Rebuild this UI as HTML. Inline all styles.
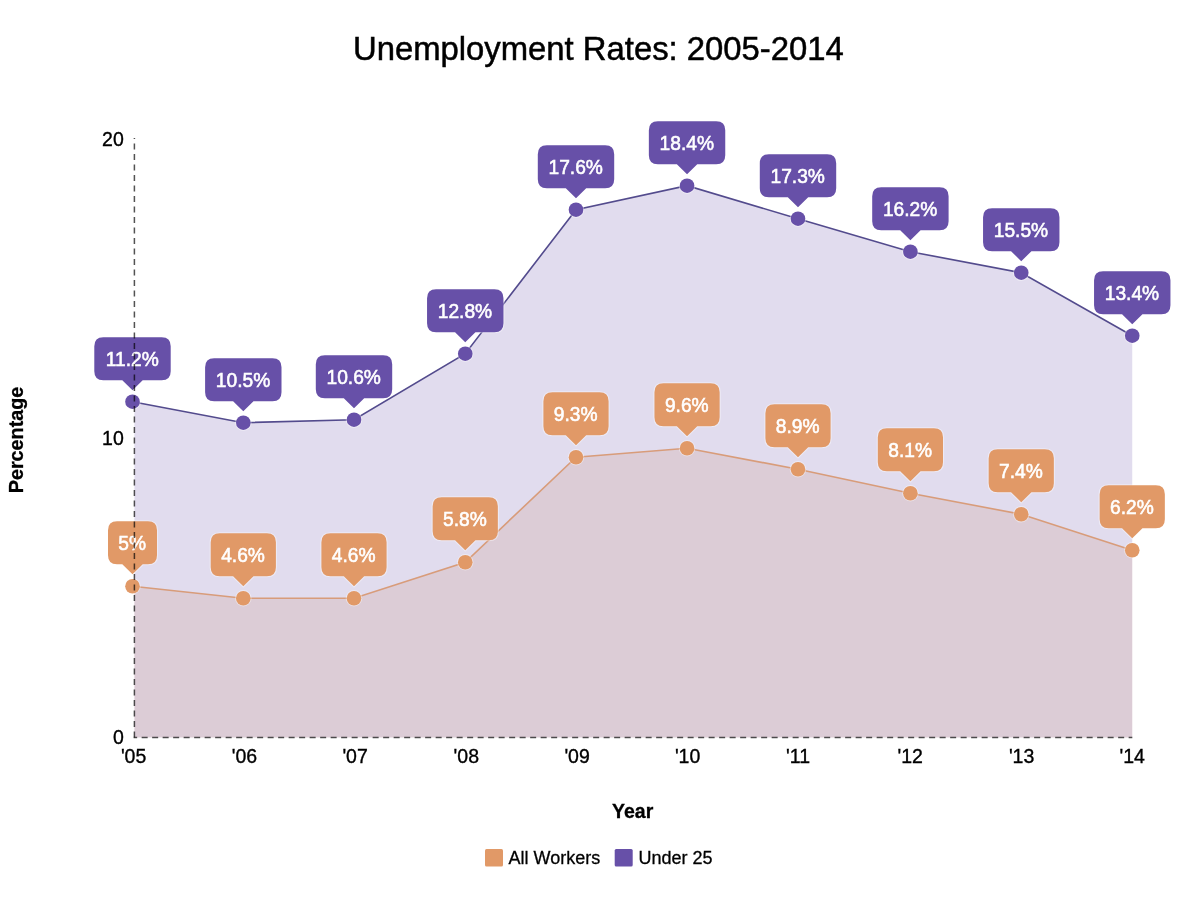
<!DOCTYPE html>
<html lang="en">
<head>
<meta charset="utf-8">
<title>Unemployment Rates: 2005-2014</title>
<style>
html,body{margin:0;padding:0;background:#fff;}
body{width:1200px;height:904px;overflow:hidden;}
svg{display:block;font-family:"Liberation Sans",Arial,Helvetica,sans-serif;}
</style>
</head>
<body>
<svg width="1200" height="904" viewBox="0 0 1200 904">
<rect width="1200" height="904" fill="#fff"/>
<text x="598.4" y="59.7" text-anchor="middle" font-size="32.85" fill="#000" stroke="#000" stroke-width="0.5">Unemployment Rates: 2005-2014</text>
<path d="M134.4 737.5 L134.4 586.25 L243.3 598.25 L354 598.25 L465.25 562.25 L576 457.25 L687.05 448.25 L798 469.25 L910.4 493.25 L1021.25 514.25 L1132.25 550.25 L1132.25 737.5 Z" fill="#E19967" fill-opacity="0.2"/>
<path d="M134.4 737.5 L134.4 401.7 L243.3 422.7 L354 419.7 L465.25 353.7 L576 209.7 L687.05 185.7 L798 218.7 L910.4 251.7 L1021.25 272.7 L1132.25 335.7 L1132.25 737.5 Z" fill="#6750A8" fill-opacity="0.2"/>
<path d="M132.5 586.25 L243.3 598.25 L354 598.25 L465.25 562.25 L576 457.25 L687.05 448.25 L798 469.25 L910.4 493.25 L1021.25 514.25 L1132.25 550.25" fill="none" stroke="#D89C7A" stroke-width="1.6"/>
<path d="M132.5 401.7 L243.3 422.7 L354 419.7 L465.25 353.7 L576 209.7 L687.05 185.7 L798 218.7 L910.4 251.7 L1021.25 272.7 L1132.25 335.7" fill="none" stroke="#534B8D" stroke-width="1.6"/>
<g font-size="19.5" fill="#000" stroke="#000" stroke-width="0.35" text-anchor="end">
<text x="123.8" y="744">0</text>
<text x="123.8" y="445">10</text>
<text x="123.8" y="146">20</text>
</g>
<g font-size="19.5" fill="#000" stroke="#000" stroke-width="0.35" text-anchor="middle">
<text x="133.6" y="762.8">'05</text>
<text x="244.4" y="762.8">'06</text>
<text x="355.1" y="762.8">'07</text>
<text x="466.3" y="762.8">'08</text>
<text x="577.1" y="762.8">'09</text>
<text x="687.6" y="762.8">'10</text>
<text x="798.1" y="762.8">'11</text>
<text x="910.25" y="762.8">'12</text>
<text x="1021.6" y="762.8">'13</text>
<text x="1132.2" y="762.8">'14</text>
</g>
<text x="632.7" y="817.7" text-anchor="middle" font-size="19.5" font-weight="bold" fill="#000" stroke="#000" stroke-width="0.3">Year</text>
<text transform="translate(23,440) rotate(-90)" text-anchor="middle" font-size="19.75" font-weight="bold" fill="#000" stroke="#000" stroke-width="0.3">Percentage</text>
<circle cx="132.5" cy="401.7" r="7.3" fill="#6750A8" stroke="#fff" stroke-opacity="0.4" stroke-width="2" paint-order="stroke"/>
<circle cx="243.3" cy="422.7" r="7.3" fill="#6750A8" stroke="#fff" stroke-opacity="0.4" stroke-width="2" paint-order="stroke"/>
<circle cx="354" cy="419.7" r="7.3" fill="#6750A8" stroke="#fff" stroke-opacity="0.4" stroke-width="2" paint-order="stroke"/>
<circle cx="465.25" cy="353.7" r="7.3" fill="#6750A8" stroke="#fff" stroke-opacity="0.4" stroke-width="2" paint-order="stroke"/>
<circle cx="576" cy="209.7" r="7.3" fill="#6750A8" stroke="#fff" stroke-opacity="0.4" stroke-width="2" paint-order="stroke"/>
<circle cx="687.05" cy="185.7" r="7.3" fill="#6750A8" stroke="#fff" stroke-opacity="0.4" stroke-width="2" paint-order="stroke"/>
<circle cx="798" cy="218.7" r="7.3" fill="#6750A8" stroke="#fff" stroke-opacity="0.4" stroke-width="2" paint-order="stroke"/>
<circle cx="910.4" cy="251.7" r="7.3" fill="#6750A8" stroke="#fff" stroke-opacity="0.4" stroke-width="2" paint-order="stroke"/>
<circle cx="1021.25" cy="272.7" r="7.3" fill="#6750A8" stroke="#fff" stroke-opacity="0.4" stroke-width="2" paint-order="stroke"/>
<circle cx="1132.25" cy="335.7" r="7.3" fill="#6750A8" stroke="#fff" stroke-opacity="0.4" stroke-width="2" paint-order="stroke"/>
<circle cx="132.5" cy="586.25" r="7.3" fill="#E19967" stroke="#fff" stroke-opacity="0.4" stroke-width="2" paint-order="stroke"/>
<circle cx="243.3" cy="598.25" r="7.3" fill="#E19967" stroke="#fff" stroke-opacity="0.4" stroke-width="2" paint-order="stroke"/>
<circle cx="354" cy="598.25" r="7.3" fill="#E19967" stroke="#fff" stroke-opacity="0.4" stroke-width="2" paint-order="stroke"/>
<circle cx="465.25" cy="562.25" r="7.3" fill="#E19967" stroke="#fff" stroke-opacity="0.4" stroke-width="2" paint-order="stroke"/>
<circle cx="576" cy="457.25" r="7.3" fill="#E19967" stroke="#fff" stroke-opacity="0.4" stroke-width="2" paint-order="stroke"/>
<circle cx="687.05" cy="448.25" r="7.3" fill="#E19967" stroke="#fff" stroke-opacity="0.4" stroke-width="2" paint-order="stroke"/>
<circle cx="798" cy="469.25" r="7.3" fill="#E19967" stroke="#fff" stroke-opacity="0.4" stroke-width="2" paint-order="stroke"/>
<circle cx="910.4" cy="493.25" r="7.3" fill="#E19967" stroke="#fff" stroke-opacity="0.4" stroke-width="2" paint-order="stroke"/>
<circle cx="1021.25" cy="514.25" r="7.3" fill="#E19967" stroke="#fff" stroke-opacity="0.4" stroke-width="2" paint-order="stroke"/>
<circle cx="1132.25" cy="550.25" r="7.3" fill="#E19967" stroke="#fff" stroke-opacity="0.4" stroke-width="2" paint-order="stroke"/>
<path d="M103.3 337.3 H161.7 Q170.7 337.3 170.7 346.3 V371.2 Q170.7 380.2 161.7 380.2 H142.7 L132.5 390.2 L122.3 380.2 H103.3 Q94.3 380.2 94.3 371.2 V346.3 Q94.3 337.3 103.3 337.3 Z" fill="#6750A8" stroke="#fff" stroke-width="2.2" stroke-opacity="0.4" paint-order="stroke"/><text transform="translate(132.2 365.9) scale(1 1.08)" text-anchor="middle" font-size="19.2" fill="#fff" stroke="#fff" stroke-width="0.55">11.2%</text>
<path d="M214.1 358.3 H272.5 Q281.5 358.3 281.5 367.3 V392.2 Q281.5 401.2 272.5 401.2 H253.5 L243.3 411.2 L233.1 401.2 H214.1 Q205.1 401.2 205.1 392.2 V367.3 Q205.1 358.3 214.1 358.3 Z" fill="#6750A8" stroke="#fff" stroke-width="2.2" stroke-opacity="0.4" paint-order="stroke"/><text transform="translate(243 386.9) scale(1 1.08)" text-anchor="middle" font-size="19.2" fill="#fff" stroke="#fff" stroke-width="0.55">10.5%</text>
<path d="M324.8 355.3 H383.2 Q392.2 355.3 392.2 364.3 V389.2 Q392.2 398.2 383.2 398.2 H364.2 L354 408.2 L343.8 398.2 H324.8 Q315.8 398.2 315.8 389.2 V364.3 Q315.8 355.3 324.8 355.3 Z" fill="#6750A8" stroke="#fff" stroke-width="2.2" stroke-opacity="0.4" paint-order="stroke"/><text transform="translate(353.7 383.9) scale(1 1.08)" text-anchor="middle" font-size="19.2" fill="#fff" stroke="#fff" stroke-width="0.55">10.6%</text>
<path d="M436.05 289.3 H494.45 Q503.45 289.3 503.45 298.3 V323.2 Q503.45 332.2 494.45 332.2 H475.45 L465.25 342.2 L455.05 332.2 H436.05 Q427.05 332.2 427.05 323.2 V298.3 Q427.05 289.3 436.05 289.3 Z" fill="#6750A8" stroke="#fff" stroke-width="2.2" stroke-opacity="0.4" paint-order="stroke"/><text transform="translate(464.95 317.9) scale(1 1.08)" text-anchor="middle" font-size="19.2" fill="#fff" stroke="#fff" stroke-width="0.55">12.8%</text>
<path d="M546.8 145.3 H605.2 Q614.2 145.3 614.2 154.3 V179.2 Q614.2 188.2 605.2 188.2 H586.2 L576 198.2 L565.8 188.2 H546.8 Q537.8 188.2 537.8 179.2 V154.3 Q537.8 145.3 546.8 145.3 Z" fill="#6750A8" stroke="#fff" stroke-width="2.2" stroke-opacity="0.4" paint-order="stroke"/><text transform="translate(575.7 173.9) scale(1 1.08)" text-anchor="middle" font-size="19.2" fill="#fff" stroke="#fff" stroke-width="0.55">17.6%</text>
<path d="M657.85 121.3 H716.25 Q725.25 121.3 725.25 130.3 V155.2 Q725.25 164.2 716.25 164.2 H697.25 L687.05 174.2 L676.85 164.2 H657.85 Q648.85 164.2 648.85 155.2 V130.3 Q648.85 121.3 657.85 121.3 Z" fill="#6750A8" stroke="#fff" stroke-width="2.2" stroke-opacity="0.4" paint-order="stroke"/><text transform="translate(686.75 149.9) scale(1 1.08)" text-anchor="middle" font-size="19.2" fill="#fff" stroke="#fff" stroke-width="0.55">18.4%</text>
<path d="M768.8 154.3 H827.2 Q836.2 154.3 836.2 163.3 V188.2 Q836.2 197.2 827.2 197.2 H808.2 L798 207.2 L787.8 197.2 H768.8 Q759.8 197.2 759.8 188.2 V163.3 Q759.8 154.3 768.8 154.3 Z" fill="#6750A8" stroke="#fff" stroke-width="2.2" stroke-opacity="0.4" paint-order="stroke"/><text transform="translate(797.7 182.9) scale(1 1.08)" text-anchor="middle" font-size="19.2" fill="#fff" stroke="#fff" stroke-width="0.55">17.3%</text>
<path d="M881.2 187.3 H939.6 Q948.6 187.3 948.6 196.3 V221.2 Q948.6 230.2 939.6 230.2 H920.6 L910.4 240.2 L900.2 230.2 H881.2 Q872.2 230.2 872.2 221.2 V196.3 Q872.2 187.3 881.2 187.3 Z" fill="#6750A8" stroke="#fff" stroke-width="2.2" stroke-opacity="0.4" paint-order="stroke"/><text transform="translate(910.1 215.9) scale(1 1.08)" text-anchor="middle" font-size="19.2" fill="#fff" stroke="#fff" stroke-width="0.55">16.2%</text>
<path d="M992.05 208.3 H1050.45 Q1059.45 208.3 1059.45 217.3 V242.2 Q1059.45 251.2 1050.45 251.2 H1031.45 L1021.25 261.2 L1011.05 251.2 H992.05 Q983.05 251.2 983.05 242.2 V217.3 Q983.05 208.3 992.05 208.3 Z" fill="#6750A8" stroke="#fff" stroke-width="2.2" stroke-opacity="0.4" paint-order="stroke"/><text transform="translate(1020.95 236.9) scale(1 1.08)" text-anchor="middle" font-size="19.2" fill="#fff" stroke="#fff" stroke-width="0.55">15.5%</text>
<path d="M1103.05 271.3 H1161.45 Q1170.45 271.3 1170.45 280.3 V305.2 Q1170.45 314.2 1161.45 314.2 H1142.45 L1132.25 324.2 L1122.05 314.2 H1103.05 Q1094.05 314.2 1094.05 305.2 V280.3 Q1094.05 271.3 1103.05 271.3 Z" fill="#6750A8" stroke="#fff" stroke-width="2.2" stroke-opacity="0.4" paint-order="stroke"/><text transform="translate(1131.95 299.9) scale(1 1.08)" text-anchor="middle" font-size="19.2" fill="#fff" stroke="#fff" stroke-width="0.55">13.4%</text>
<path d="M117 521.35 H148 Q157 521.35 157 530.35 V555.25 Q157 564.25 148 564.25 H142.7 L132.5 574.25 L122.3 564.25 H117 Q108 564.25 108 555.25 V530.35 Q108 521.35 117 521.35 Z" fill="#E19967" stroke="#fff" stroke-width="2.2" stroke-opacity="0.4" paint-order="stroke"/><text transform="translate(132.2 549.95) scale(1 1.08)" text-anchor="middle" font-size="19.2" fill="#fff" stroke="#fff" stroke-width="0.55">5%</text>
<path d="M219.7 533.35 H266.9 Q275.9 533.35 275.9 542.35 V567.25 Q275.9 576.25 266.9 576.25 H253.5 L243.3 586.25 L233.1 576.25 H219.7 Q210.7 576.25 210.7 567.25 V542.35 Q210.7 533.35 219.7 533.35 Z" fill="#E19967" stroke="#fff" stroke-width="2.2" stroke-opacity="0.4" paint-order="stroke"/><text transform="translate(243 561.95) scale(1 1.08)" text-anchor="middle" font-size="19.2" fill="#fff" stroke="#fff" stroke-width="0.55">4.6%</text>
<path d="M330.4 533.35 H377.6 Q386.6 533.35 386.6 542.35 V567.25 Q386.6 576.25 377.6 576.25 H364.2 L354 586.25 L343.8 576.25 H330.4 Q321.4 576.25 321.4 567.25 V542.35 Q321.4 533.35 330.4 533.35 Z" fill="#E19967" stroke="#fff" stroke-width="2.2" stroke-opacity="0.4" paint-order="stroke"/><text transform="translate(353.7 561.95) scale(1 1.08)" text-anchor="middle" font-size="19.2" fill="#fff" stroke="#fff" stroke-width="0.55">4.6%</text>
<path d="M441.65 497.35 H488.85 Q497.85 497.35 497.85 506.35 V531.25 Q497.85 540.25 488.85 540.25 H475.45 L465.25 550.25 L455.05 540.25 H441.65 Q432.65 540.25 432.65 531.25 V506.35 Q432.65 497.35 441.65 497.35 Z" fill="#E19967" stroke="#fff" stroke-width="2.2" stroke-opacity="0.4" paint-order="stroke"/><text transform="translate(464.95 525.95) scale(1 1.08)" text-anchor="middle" font-size="19.2" fill="#fff" stroke="#fff" stroke-width="0.55">5.8%</text>
<path d="M552.4 392.35 H599.6 Q608.6 392.35 608.6 401.35 V426.25 Q608.6 435.25 599.6 435.25 H586.2 L576 445.25 L565.8 435.25 H552.4 Q543.4 435.25 543.4 426.25 V401.35 Q543.4 392.35 552.4 392.35 Z" fill="#E19967" stroke="#fff" stroke-width="2.2" stroke-opacity="0.4" paint-order="stroke"/><text transform="translate(575.7 420.95) scale(1 1.08)" text-anchor="middle" font-size="19.2" fill="#fff" stroke="#fff" stroke-width="0.55">9.3%</text>
<path d="M663.45 383.35 H710.65 Q719.65 383.35 719.65 392.35 V417.25 Q719.65 426.25 710.65 426.25 H697.25 L687.05 436.25 L676.85 426.25 H663.45 Q654.45 426.25 654.45 417.25 V392.35 Q654.45 383.35 663.45 383.35 Z" fill="#E19967" stroke="#fff" stroke-width="2.2" stroke-opacity="0.4" paint-order="stroke"/><text transform="translate(686.75 411.95) scale(1 1.08)" text-anchor="middle" font-size="19.2" fill="#fff" stroke="#fff" stroke-width="0.55">9.6%</text>
<path d="M774.4 404.35 H821.6 Q830.6 404.35 830.6 413.35 V438.25 Q830.6 447.25 821.6 447.25 H808.2 L798 457.25 L787.8 447.25 H774.4 Q765.4 447.25 765.4 438.25 V413.35 Q765.4 404.35 774.4 404.35 Z" fill="#E19967" stroke="#fff" stroke-width="2.2" stroke-opacity="0.4" paint-order="stroke"/><text transform="translate(797.7 432.95) scale(1 1.08)" text-anchor="middle" font-size="19.2" fill="#fff" stroke="#fff" stroke-width="0.55">8.9%</text>
<path d="M886.8 428.35 H934 Q943 428.35 943 437.35 V462.25 Q943 471.25 934 471.25 H920.6 L910.4 481.25 L900.2 471.25 H886.8 Q877.8 471.25 877.8 462.25 V437.35 Q877.8 428.35 886.8 428.35 Z" fill="#E19967" stroke="#fff" stroke-width="2.2" stroke-opacity="0.4" paint-order="stroke"/><text transform="translate(910.1 456.95) scale(1 1.08)" text-anchor="middle" font-size="19.2" fill="#fff" stroke="#fff" stroke-width="0.55">8.1%</text>
<path d="M997.65 449.35 H1044.85 Q1053.85 449.35 1053.85 458.35 V483.25 Q1053.85 492.25 1044.85 492.25 H1031.45 L1021.25 502.25 L1011.05 492.25 H997.65 Q988.65 492.25 988.65 483.25 V458.35 Q988.65 449.35 997.65 449.35 Z" fill="#E19967" stroke="#fff" stroke-width="2.2" stroke-opacity="0.4" paint-order="stroke"/><text transform="translate(1020.95 477.95) scale(1 1.08)" text-anchor="middle" font-size="19.2" fill="#fff" stroke="#fff" stroke-width="0.55">7.4%</text>
<path d="M1108.65 485.35 H1155.85 Q1164.85 485.35 1164.85 494.35 V519.25 Q1164.85 528.25 1155.85 528.25 H1142.45 L1132.25 538.25 L1122.05 528.25 H1108.65 Q1099.65 528.25 1099.65 519.25 V494.35 Q1099.65 485.35 1108.65 485.35 Z" fill="#E19967" stroke="#fff" stroke-width="2.2" stroke-opacity="0.4" paint-order="stroke"/><text transform="translate(1131.95 513.95) scale(1 1.08)" text-anchor="middle" font-size="19.2" fill="#fff" stroke="#fff" stroke-width="0.55">6.2%</text>
<path d="M134.4 737.5 V138" fill="none" stroke="#000" stroke-opacity="0.68" stroke-width="1.5" stroke-dasharray="6 4.5"/>
<path d="M133.65 737.5 H1132.3" fill="none" stroke="#000" stroke-opacity="0.68" stroke-width="1.5" stroke-dasharray="6 4.5" stroke-dashoffset="2.5"/>
<rect x="485" y="849" width="18" height="17.5" rx="1.5" fill="#E19967"/>
<text x="508.5" y="863.5" font-size="18" fill="#000" stroke="#000" stroke-width="0.3">All Workers</text>
<rect x="614.7" y="849" width="18" height="17.5" rx="1.5" fill="#6750A8"/>
<text x="638.5" y="863.5" font-size="18" fill="#000" stroke="#000" stroke-width="0.3">Under 25</text>
</svg>
</body>
</html>
